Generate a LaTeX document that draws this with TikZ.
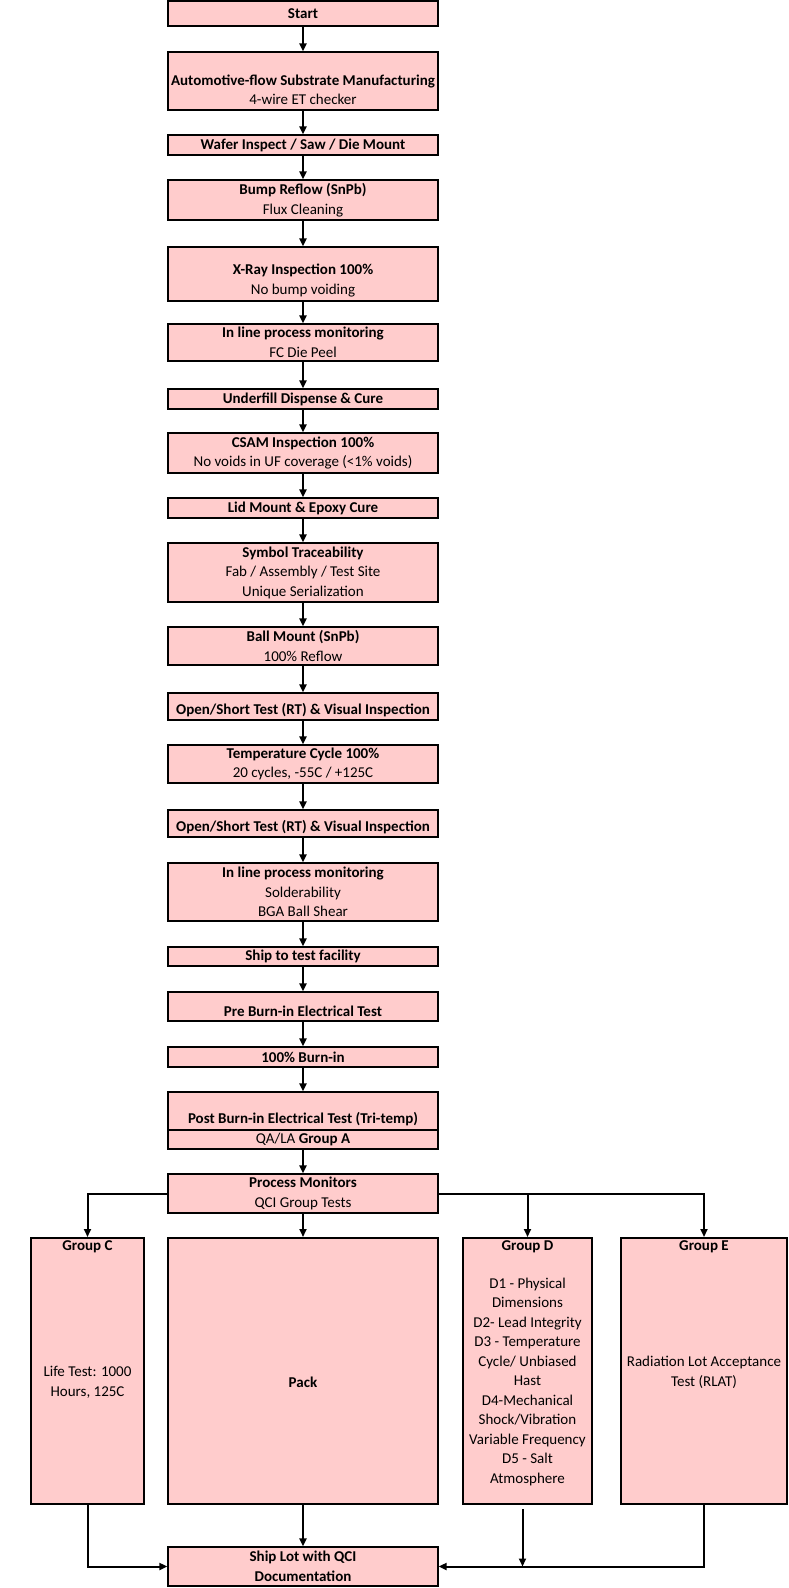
\documentclass[tikz,border=0pt]{standalone}
\usepackage{fontspec}
\setmainfont{Carlito}
\usepackage{xcolor}
\usetikzlibrary{arrows.meta,positioning}
\definecolor{boxpink}{RGB}{255,204,204}

\begin{document}
\begin{tikzpicture}[x=1pt,y=-1pt,>={Triangle[length=8pt,width=7pt]}]
    \tikzset{
        txt/.style={align=center, inner sep=0pt, font=\fontsize{15}{19.5}\selectfont},
        box/.style={txt, draw=black, fill=boxpink, line width=1.3pt, minimum width=270pt},
        grp/.style={box, line width=2pt},
        title/.style={txt, anchor=center, yshift=-10pt},
        a/.style={->, line width=2pt},
    }
    \useasboundingbox (0,0) rectangle (789,1588);

    % main column
    \node[box, minimum height=25pt] (start) at (303,13.5) {\textbf{Start}};
    \node[box, minimum height=58pt, label={[txt,yshift=-9pt]center:{\textbf{Automotive-flow Substrate Manufacturing}\\4-wire ET checker}}] (auto) at (303,81) {};
    \node[box, minimum height=20pt] (wafer) at (303,145) {\textbf{Wafer Inspect / Saw / Die Mount}};
    \node[box, minimum height=40pt] (bump) at (303,200) {\textbf{Bump Reflow (SnPb)}\\Flux Cleaning};
    \node[box, minimum height=54pt, label={[txt,yshift=-6.5pt]center:{\textbf{X-Ray Inspection 100\%}\\No bump voiding}}] (xray) at (303,274) {};
    \node[box, minimum height=37pt] (inline1) at (303,342.5) {\textbf{In line process monitoring}\\FC Die Peel};
    \node[box, minimum height=20pt] (underfill) at (303,399) {\textbf{Underfill Dispense \& Cure}};
    \node[box, minimum height=40pt] (csam) at (303,453) {\textbf{CSAM Inspection 100\%}\\No voids in UF coverage (<1\% voids)};
    \node[box, minimum height=20pt] (lid) at (303,508) {\textbf{Lid Mount \& Epoxy Cure}};
    \node[box, minimum height=59pt] (symbol) at (303,572.5) {\textbf{Symbol Traceability}\\Fab / Assembly / Test Site\\Unique Serialization};
    \node[box, minimum height=38pt] (ball) at (303,646) {\textbf{Ball Mount (SnPb)}\\100\% Reflow};
    \node[box, minimum height=27pt, label={[txt,yshift=-3.5pt]center:{\textbf{Open/Short Test (RT) \& Visual Inspection}}}] (os1) at (303,706.5) {};
    \node[box, minimum height=38pt] (tcycle) at (303,764) {\textbf{Temperature Cycle 100\%}\\20 cycles, -55C / +125C};
    \node[box, minimum height=27pt, label={[txt,yshift=-3.5pt]center:{\textbf{Open/Short Test (RT) \& Visual Inspection}}}] (os2) at (303,823.5) {};
    \node[box, minimum height=58pt] (inline2) at (303,892) {\textbf{In line process monitoring}\\Solderability\\BGA Ball Shear};
    \node[box, minimum height=19pt] (shiptest) at (303,956.5) {\textbf{Ship to test facility}};
    \node[box, minimum height=29pt, label={[txt,yshift=-4.5pt]center:{\textbf{Pre Burn-in Electrical Test}}}] (preburn) at (303,1006.5) {};
    \node[box, minimum height=20pt] (burnin) at (303,1057) {\textbf{100\% Burn-in}};
    \node[box, minimum height=38pt, label={[txt,yshift=-8pt]center:{\textbf{Post Burn-in Electrical Test (Tri-temp)}}}] (postburn) at (303,1111) {};
    \node[box, minimum height=19pt] (groupa) at (303,1139.5) {QA/LA \textbf{Group A}};
    \node[box, minimum height=39pt] (monitors) at (303,1193.5) {\textbf{Process Monitors}\\QCI Group Tests};

    % QCI groups
    \node[grp, minimum width=113pt, minimum height=266pt,
        label={[title]north:{\textbf{Group C}}},
        label={[txt,yshift=-11.5pt]center:{Life Test: 1000\\Hours, 125C}}] (groupc) at (87.5,1371) {};
    \node[grp, minimum height=266pt, label={[txt,yshift=-11pt]center:{\textbf{Pack}}}] (pack) at (303,1371) {};
    \node[grp, minimum width=129pt, minimum height=266pt,
        label={[title]north:{\textbf{Group D}}},
        label={[txt,yshift=-10.5pt]center:{D1 - Physical\\Dimensions\\D2- Lead Integrity\\D3 - Temperature\\Cycle/ Unbiased\\Hast\\D4-Mechanical\\Shock/Vibration\\Variable Frequency\\D5 - Salt\\Atmosphere}}] (groupd) at (527.5,1371) {};
    \node[grp, minimum width=166pt, minimum height=266pt,
        label={[title]north:{\textbf{Group E}}},
        label={[txt,yshift=-1.5pt]center:{Radiation Lot Acceptance\\Test (RLAT)}}] (groupe) at (704,1371) {};

    \node[box, minimum height=39pt] (shiplot) at (303,1566.5) {\textbf{Ship Lot with QCI}\\\textbf{Documentation}};

    % connectors
    \foreach \s/\t in {start/auto, auto/wafer, wafer/bump, bump/xray, xray/inline1, inline1/underfill, underfill/csam, csam/lid, lid/symbol, symbol/ball, ball/os1, os1/tcycle, tcycle/os2, os2/inline2, inline2/shiptest, shiptest/preburn, preburn/burnin, burnin/postburn, groupa/monitors, monitors/pack}
        \draw [a] (\s.south) -- (\t.north);

    \draw [a] (monitors.west) -| (groupc.north);
    \draw [a] (monitors.east) -| (groupe.north);
    \draw [a] (monitors.east -| groupd.north) -- (groupd.north);

    \draw [a] (groupc.south) |- (shiplot.west);
    \draw [a] (pack.south) -- (shiplot.north);
    \draw [a] (groupe.south) |- (shiplot.east);
    \draw [a] ([xshift=-5pt,yshift=-4pt]groupd.south) -- ([xshift=-5pt]groupd.south |- shiplot.east);
\end{tikzpicture}
\end{document}
